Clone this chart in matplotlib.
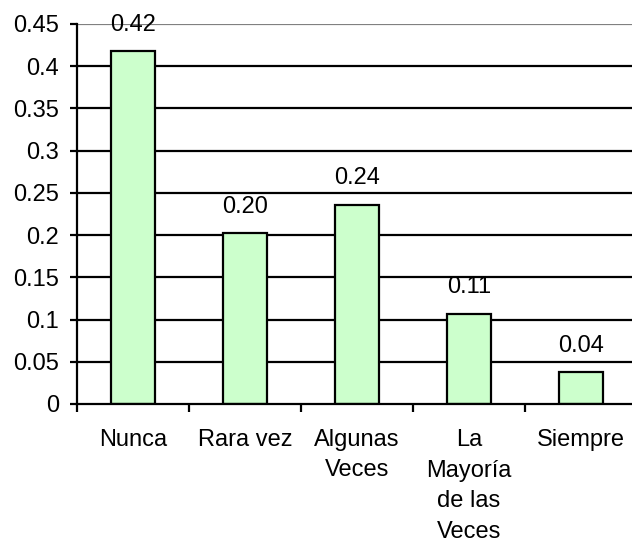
import numpy as np
import matplotlib
matplotlib.use("Agg")
import matplotlib.pyplot as plt

# data
categories = ["Nunca", "Rara vez", "Algunas\nVeces", "La\nMayoría\nde las\nVeces", "Siempre"]
values = [0.418, 0.202, 0.236, 0.107, 0.038]
yticks = [0, 0.05, 0.1, 0.15, 0.2, 0.25, 0.3, 0.35, 0.4, 0.45]
ytick_labels = ["0", "0.05", "0.1", "0.15", "0.2", "0.25", "0.3", "0.35", "0.4", "0.45"]

plt.rcParams['font.family'] = ['Liberation Sans', 'DejaVu Sans']
plt.rcParams['font.size'] = 17

fig = plt.figure(figsize=(6.32, 5.46), dpi=100)
ax = fig.add_axes([77 / 632, 1 - 404 / 546, 560 / 632, 380 / 546])

x = np.arange(len(categories))

# horizontal gridlines (top one grey like the plot border)
for y in yticks[1:]:
    col = "#808080" if y == yticks[-1] else "black"
    ax.axhline(y, color=col, linewidth=1.6, zorder=1)

bars = ax.bar(x, values, width=0.39, color="#CCFFCC", edgecolor="black",
              linewidth=1.6, zorder=3)

for xi, v in zip(x, values):
    ax.annotate(f"{v:.2f}", (xi, v), xytext=(0, 11), textcoords="offset points",
                ha="center", va="bottom", fontsize=17, zorder=4)

ax.set_xlim(-0.5, 4.5)
ax.set_ylim(0, 0.45)

ax.set_yticks(yticks)
ax.set_yticklabels(ytick_labels)
ax.tick_params(axis="y", direction="out", length=5, width=1.6, pad=8)

ax.set_xticks(x)
ax.set_xticklabels(categories, linespacing=1.5)
ax.tick_params(axis="x", which="major", length=0, pad=18)
ax.set_xticks(np.arange(-0.5, 5, 1), minor=True)
ax.tick_params(axis="x", which="minor", direction="out", length=6, width=1.6)

for s in ["top", "right"]:
    ax.spines[s].set_visible(False)
for s in ["left", "bottom"]:
    ax.spines[s].set_linewidth(1.6)
    ax.spines[s].set_zorder(5)

fig.savefig("out.png", dpi=100)
